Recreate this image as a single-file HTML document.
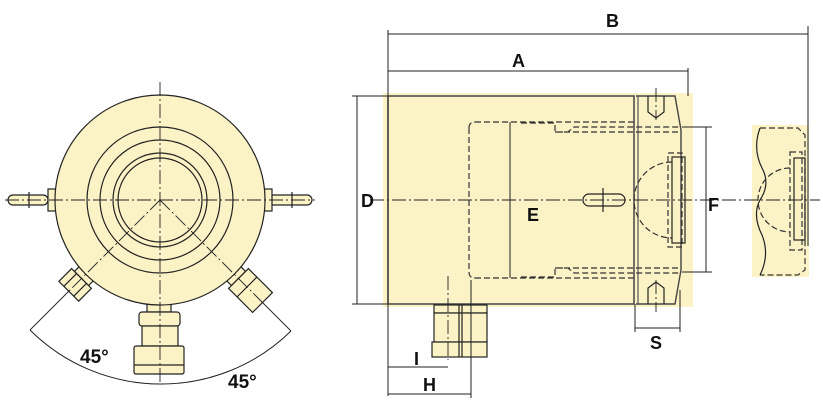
<!DOCTYPE html>
<html><head><meta charset="utf-8"><style>
html,body{margin:0;padding:0;background:#fff;width:823px;height:414px;overflow:hidden}
svg text{font-family:"Liberation Sans",sans-serif;font-weight:bold;fill:#111}
</style></head><body>
<svg width="823" height="414" viewBox="0 0 823 414" xmlns="http://www.w3.org/2000/svg">
<g stroke="#222" stroke-width="1.2" fill="none">
<rect x="8" y="195" width="40" height="10" rx="5" fill="#fbf3c6"/>
<rect x="48" y="189" width="8" height="22" fill="#fbf3c6"/>
<rect x="268" y="195" width="44" height="10" rx="5" fill="#fbf3c6"/>
<rect x="264" y="189" width="8" height="22" fill="#fbf3c6"/>
<line x1="29" y1="192" x2="29" y2="208"/><line x1="292" y1="192" x2="292" y2="208"/>
<g transform="rotate(45 160 200)">
 <rect x="150" y="303" width="20" height="8" fill="#fbf3c6"/>
 <rect x="146" y="311" width="28" height="18" fill="#fbf3c6"/>
 <line x1="153" y1="311" x2="153" y2="329"/><line x1="167" y1="311" x2="167" y2="329"/>
</g>
<g transform="rotate(-45 160 200)">
 <rect x="150" y="303" width="20" height="8" fill="#fbf3c6"/>
 <rect x="146" y="311" width="28" height="34" fill="#fbf3c6"/>
 <line x1="146" y1="323" x2="174" y2="323"/>
</g>
<rect x="147" y="304" width="24" height="8" fill="#fbf3c6"/>
<rect x="139" y="312" width="41" height="14" rx="3" fill="#fbf3c6"/>
<rect x="142" y="326" width="36" height="20" fill="#fbf3c6"/>
<rect x="134" y="346" width="50" height="28" rx="2" fill="#fbf3c6"/>
<line x1="134" y1="365" x2="184" y2="365"/>
<circle cx="160" cy="200" r="105" fill="#fbf3c6"/>
<circle cx="160" cy="200" r="73"/>
<circle cx="160" cy="200" r="60"/>
<circle cx="160" cy="200" r="47"/>
<circle cx="160" cy="200" r="42"/>
<g stroke-width="0.9" stroke-dasharray="14 3 2 3">
<line x1="160" y1="82" x2="160" y2="385"/>
<line x1="5" y1="200" x2="315" y2="200"/>
<line x1="160" y1="200" x2="70" y2="290"/>
<line x1="160" y1="200" x2="258" y2="298"/>
</g>
<line x1="70" y1="290" x2="30" y2="330" stroke-width="0.9"/>
<line x1="258" y1="298" x2="291" y2="331" stroke-width="0.9"/>
<path d="M30 330 A 185 185 0 0 0 160 384 A 185 185 0 0 0 291 331" stroke-width="1"/>

<rect x="383" y="93" width="310" height="214" fill="#fbf3c6" stroke="none"/>
<rect x="752" y="125" width="57" height="152" fill="#fbf3c6" stroke="none"/>
<rect x="388" y="96" width="246" height="208" stroke="#444" stroke-width="1.5"/>
<path d="M636 96 L675 96 L681 130 L681 270 L675 304 L636 304" stroke="#444" stroke-width="1.4"/>
<line x1="638" y1="96" x2="638" y2="304" stroke="#555"/>
<path d="M648 96 V112 L656 118 L664 112 V96" />
<path d="M648 304 V288 L656 282 L664 288 V304" />
<g stroke-dasharray="6 3" stroke="#333">
<path d="M475 122 H635 M469 128 V272 M475 278 H635"/>
<path d="M469 128 Q469 122 475 122 M469 272 Q469 278 475 278"/>
<path d="M521 123 H555 V132 H568 L574 127 H680 M555 132 L680 132"/>
<path d="M521 277 H555 V268 H568 L574 273 H680 M555 268 L680 268"/>
<rect x="668" y="153" width="14" height="94"/>
<path d="M672 162 A 38 38 0 0 0 672 238"/>
<path d="M760 128 H798 L805 135 V270 L798 275 H760"/>
<path d="M790 168 A 32 32 0 0 0 790 232"/>
<rect x="790" y="152" width="12" height="98"/>
</g>
<rect x="672" y="157" width="13" height="86"/>
<rect x="794" y="158" width="11" height="82"/>
<path d="M760 128 Q752 150 763 170 Q770 185 760 200 Q752 215 762 235 Q770 255 760 275"/>
<rect x="583" y="194" width="42" height="12" rx="6"/>
<line x1="603" y1="188" x2="603" y2="212"/>
<rect x="434" y="305" width="53" height="8" fill="#fbf3c6"/>
<rect x="434" y="313" width="53" height="29" fill="#fbf3c6"/>
<rect x="432" y="342" width="55" height="15" fill="#fbf3c6"/>
<line x1="459" y1="305" x2="459" y2="357"/><line x1="462" y1="305" x2="462" y2="357"/>
<g stroke-width="0.9" stroke-dasharray="14 3 2 3">
<line x1="370" y1="200" x2="820" y2="200"/>
<line x1="656" y1="88" x2="656" y2="120"/>
<line x1="656" y1="280" x2="656" y2="312"/>
<line x1="448" y1="276" x2="448" y2="360"/>
</g>
<g stroke-width="1">
<line x1="388" y1="34" x2="808" y2="34"/><line x1="388" y1="30" x2="388" y2="396"/>
<line x1="808" y1="26" x2="808" y2="246"/>
<line x1="388" y1="71" x2="688" y2="71"/><line x1="688" y1="68" x2="688" y2="96"/>
<line x1="357" y1="96" x2="357" y2="304"/>
<line x1="352" y1="96" x2="388" y2="96"/><line x1="352" y1="304" x2="388" y2="304"/>
<line x1="510" y1="122" x2="510" y2="278"/>
<line x1="706" y1="127" x2="706" y2="272"/>
<line x1="682" y1="127" x2="712" y2="127"/><line x1="682" y1="272" x2="712" y2="272"/>
<line x1="635" y1="328" x2="680" y2="328"/>
<line x1="635" y1="304" x2="635" y2="332"/><line x1="680" y1="290" x2="680" y2="332"/>
<line x1="388" y1="367" x2="448" y2="367"/>
<line x1="388" y1="394" x2="471" y2="394"/><line x1="471" y1="280" x2="471" y2="398"/>
</g>
</g>
<text x="606" y="27" font-size="18">B</text>
<text x="512" y="67" font-size="18">A</text>
<text x="361" y="207" font-size="18">D</text>
<text x="527" y="221" font-size="18">E</text>
<text x="708" y="211" font-size="18">F</text>
<text x="650" y="349" font-size="18">S</text>
<text x="414" y="365" font-size="18">I</text>
<text x="423" y="391" font-size="18">H</text>
<text x="80" y="363" font-size="19">45°</text>
<text x="228" y="388" font-size="19">45°</text>
</svg>
</body></html>
